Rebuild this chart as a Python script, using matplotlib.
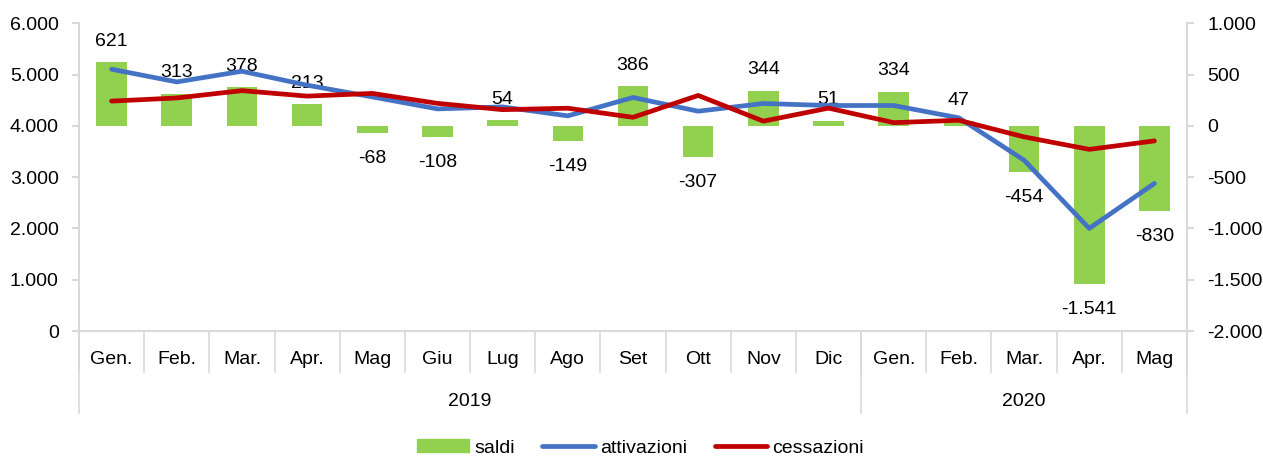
import numpy as np
import matplotlib
matplotlib.use("Agg")
import matplotlib.pyplot as plt
from matplotlib.lines import Line2D
from matplotlib.patches import Patch
from matplotlib.ticker import FuncFormatter, MultipleLocator

plt.rcParams['font.family'] = ['Liberation Sans', 'DejaVu Sans']

months = ["Gen.", "Feb.", "Mar.", "Apr.", "Mag", "Giu", "Lug", "Ago", "Set",
          "Ott", "Nov", "Dic", "Gen.", "Feb.", "Mar.", "Apr.", "Mag"]
years = ["2019", "2020"]
year_counts = [12, 5]

saldi = [621, 313, 378, 213, -68, -108, 54, -149, 386,
         -307, 344, 51, 334, 47, -454, -1541, -830]
attivazioni = [5104, 4857, 5065, 4793, 4565, 4331, 4370, 4195, 4553,
               4286, 4436, 4397, 4397, 4156, 3331, 2001, 2877]
cessazioni = [4483, 4544, 4687, 4580, 4633, 4439, 4316, 4344, 4167,
              4593, 4092, 4346, 4063, 4109, 3785, 3542, 3707]

green = '#92D050'
blue = '#4472C4'
red = '#C00000'
grey = '#D9D9D9'
fs = 14


def fmt(v, pos=None):
    s = '{:,.0f}'.format(abs(v)).replace(',', '.')
    return ('-' if v < 0 else '') + s


fig = plt.figure(figsize=(12.63, 4.58), dpi=100)
ax = fig.add_axes([79 / 1263, 1 - 331 / 458, (1187 - 79) / 1263, (331 - 23.3) / 458])
ax2 = ax.twinx()

x = np.arange(len(months))

# bars on right axis
ax2.bar(x, saldi, width=0.47, color=green)
ax2.set_ylim(-2000, 1000)
ax2.yaxis.set_major_locator(MultipleLocator(500))
ax2.yaxis.set_major_formatter(FuncFormatter(fmt))
for xi, v in zip(x, saldi):
    if v >= 0:
        ax2.annotate(fmt(v), (xi, v), xytext=(0, 9), textcoords='offset points',
                     ha='center', va='bottom', fontsize=fs)
    else:
        ax2.annotate(fmt(v), (xi, v), xytext=(0, -12), textcoords='offset points',
                     ha='center', va='top', fontsize=fs)

# lines on left axis
ax.plot(x, attivazioni, color=blue, lw=3.4, solid_capstyle='round')
ax.plot(x, cessazioni, color=red, lw=3.4, solid_capstyle='round')
ax.set_ylim(0, 6000)
ax.yaxis.set_major_locator(MultipleLocator(1000))
ax.yaxis.set_major_formatter(FuncFormatter(fmt))
ax.set_zorder(ax2.get_zorder() + 1)
ax.patch.set_visible(False)

ax.set_xlim(-0.5, len(months) - 0.5)
ax.set_xticks([])
for a in (ax, ax2):
    for s in a.spines.values():
        s.set_visible(False)
ax.spines['left'].set_visible(True)
ax.spines['left'].set_color(grey)
ax.spines['left'].set_linewidth(1.5)
ax.spines['bottom'].set_visible(True)
ax.spines['bottom'].set_color(grey)
ax.spines['bottom'].set_linewidth(1.5)
ax2.spines['right'].set_visible(True)
ax2.spines['right'].set_color(grey)
ax2.spines['right'].set_linewidth(1.5)
ax.tick_params(axis='y', colors=grey, labelcolor='black', labelsize=fs, length=5, width=1.5, pad=9.5)
ax2.tick_params(axis='y', colors=grey, labelcolor='black', labelsize=fs, length=5, width=1.5, pad=9.5)

# multi-level category axis
h = 331 - 23.3
trans = ax.get_xaxis_transform()
for i in range(len(months) + 1):
    ax.add_line(Line2D([i - 0.5, i - 0.5], [0, -41 / h], transform=trans,
                       color=grey, lw=1.2, clip_on=False))
for i, m in enumerate(months):
    ax.text(i, -29 / h, m, transform=trans, ha='center', va='center', fontsize=fs)
start = 0
bounds = [0]
for y, n in zip(years, year_counts):
    ax.text(start + n / 2 - 0.5, -70 / h, y, transform=trans, ha='center', va='center', fontsize=fs)
    start += n
    bounds.append(start)
for b in bounds:
    ax.add_line(Line2D([b - 0.5, b - 0.5], [0, -82 / h], transform=trans,
                       color=grey, lw=1.2, clip_on=False))

handles = [Patch(color=green, label='saldi'),
           Line2D([], [], color=blue, lw=3.4, solid_capstyle='round', label='attivazioni'),
           Line2D([], [], color=red, lw=3.4, solid_capstyle='round', label='cessazioni')]
fig.legend(handles=handles, loc='center', bbox_to_anchor=(0.507, 1 - 448 / 458), ncol=3,
           frameon=False, fontsize=fs, handlelength=2.7, handleheight=0.6,
           handletextpad=0.27, columnspacing=1.4)

fig.savefig('out.png', dpi=100)
